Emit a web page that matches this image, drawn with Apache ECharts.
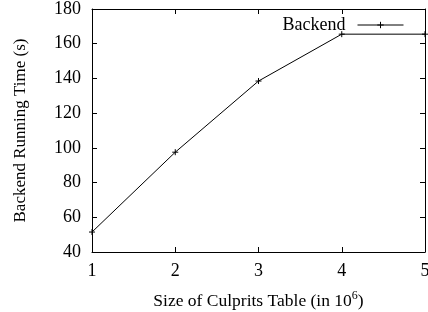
<!DOCTYPE html>
<html><head><meta charset="utf-8">
<script src="https://cdn.jsdelivr.net/npm/echarts@6/dist/echarts.min.js"></script>
<style>html,body{margin:0;padding:0;background:#fff}#c{width:428px;height:312px}</style>
</head><body><div id="c"></div>
<script>
const categories = [1, 2, 3, 4, 5];
const backendValues = [51.5, 97.5, 138.5, 165.5, 165.5];
const yTicks = [40, 60, 80, 100, 120, 140, 160, 180];
const seriesName = 'Backend';

const FONT = 'Liberation Serif';
const chart = echarts.init(document.getElementById('c'), null, {renderer: 'canvas'});
const plus = 'path://M0,5L10,5M5,0L5,10';
const axisCommon = {
  axisLine: {show: true, lineStyle: {color: '#000', width: 1}},
  axisTick: {show: true, inside: true, length: 5, lineStyle: {color: '#000', width: 1}},
  splitLine: {show: false}
};
chart.setOption({
  animation: false,
  backgroundColor: '#fff',
  grid: {left: 92, right: 3, top: 9, bottom: 60, containLabel: false, outerBoundsMode: 'none'},
  legend: {
    data: [seriesName], right: 19, top: 11, itemWidth: 46, itemHeight: 8, align: 'right', itemGap: 0,
    lineStyle: {width: 1, color: '#000'},
    itemStyle: {color: 'none', borderColor: '#000', borderWidth: 1},
    textStyle: {fontFamily: FONT, fontSize: 18, color: '#000', padding: [0, 7, 0, 0]}
  },
  xAxis: [
    Object.assign({
      type: 'value', min: 1, max: 5, interval: 1,
      name: '{a|Size of Culprits Table (in 10}{b|6}{a|)}', nameLocation: 'middle', nameGap: 38,
      nameTextStyle: {rich: {a: {fontFamily: FONT, fontSize: 17.5, color: '#000'}, b: {fontFamily: FONT, fontSize: 12, color: '#000', verticalAlign: 'top', padding: [0, 0, 10, 0]}}},
      axisLabel: {fontFamily: FONT, fontSize: 18, color: '#000', margin: 10}
    }, axisCommon),
    Object.assign({type: 'value', min: 1, max: 5, interval: 1, position: 'top', axisLabel: {show: false}}, axisCommon)
  ],
  yAxis: [
    Object.assign({
      type: 'value', min: yTicks[0], max: yTicks[yTicks.length - 1], interval: 20,
      name: 'Backend Running Time (s)', nameLocation: 'middle', nameGap: 63,
      nameTextStyle: {fontFamily: FONT, fontSize: 17, color: '#000'},
      axisLabel: {fontFamily: FONT, fontSize: 18, color: '#000', margin: 11}
    }, axisCommon),
    Object.assign({type: 'value', min: yTicks[0], max: yTicks[yTicks.length - 1], interval: 20, position: 'right', axisLabel: {show: false}}, axisCommon)
  ],
  series: [{
    name: seriesName, type: 'line',
    data: categories.map((c, i) => [c, backendValues[i]]),
    symbol: plus, symbolSize: 6, showSymbol: true,
    lineStyle: {color: '#000', width: 1},
    itemStyle: {color: 'none', borderColor: '#000', borderWidth: 1},
    clip: false
  }]
});
</script></body></html>
